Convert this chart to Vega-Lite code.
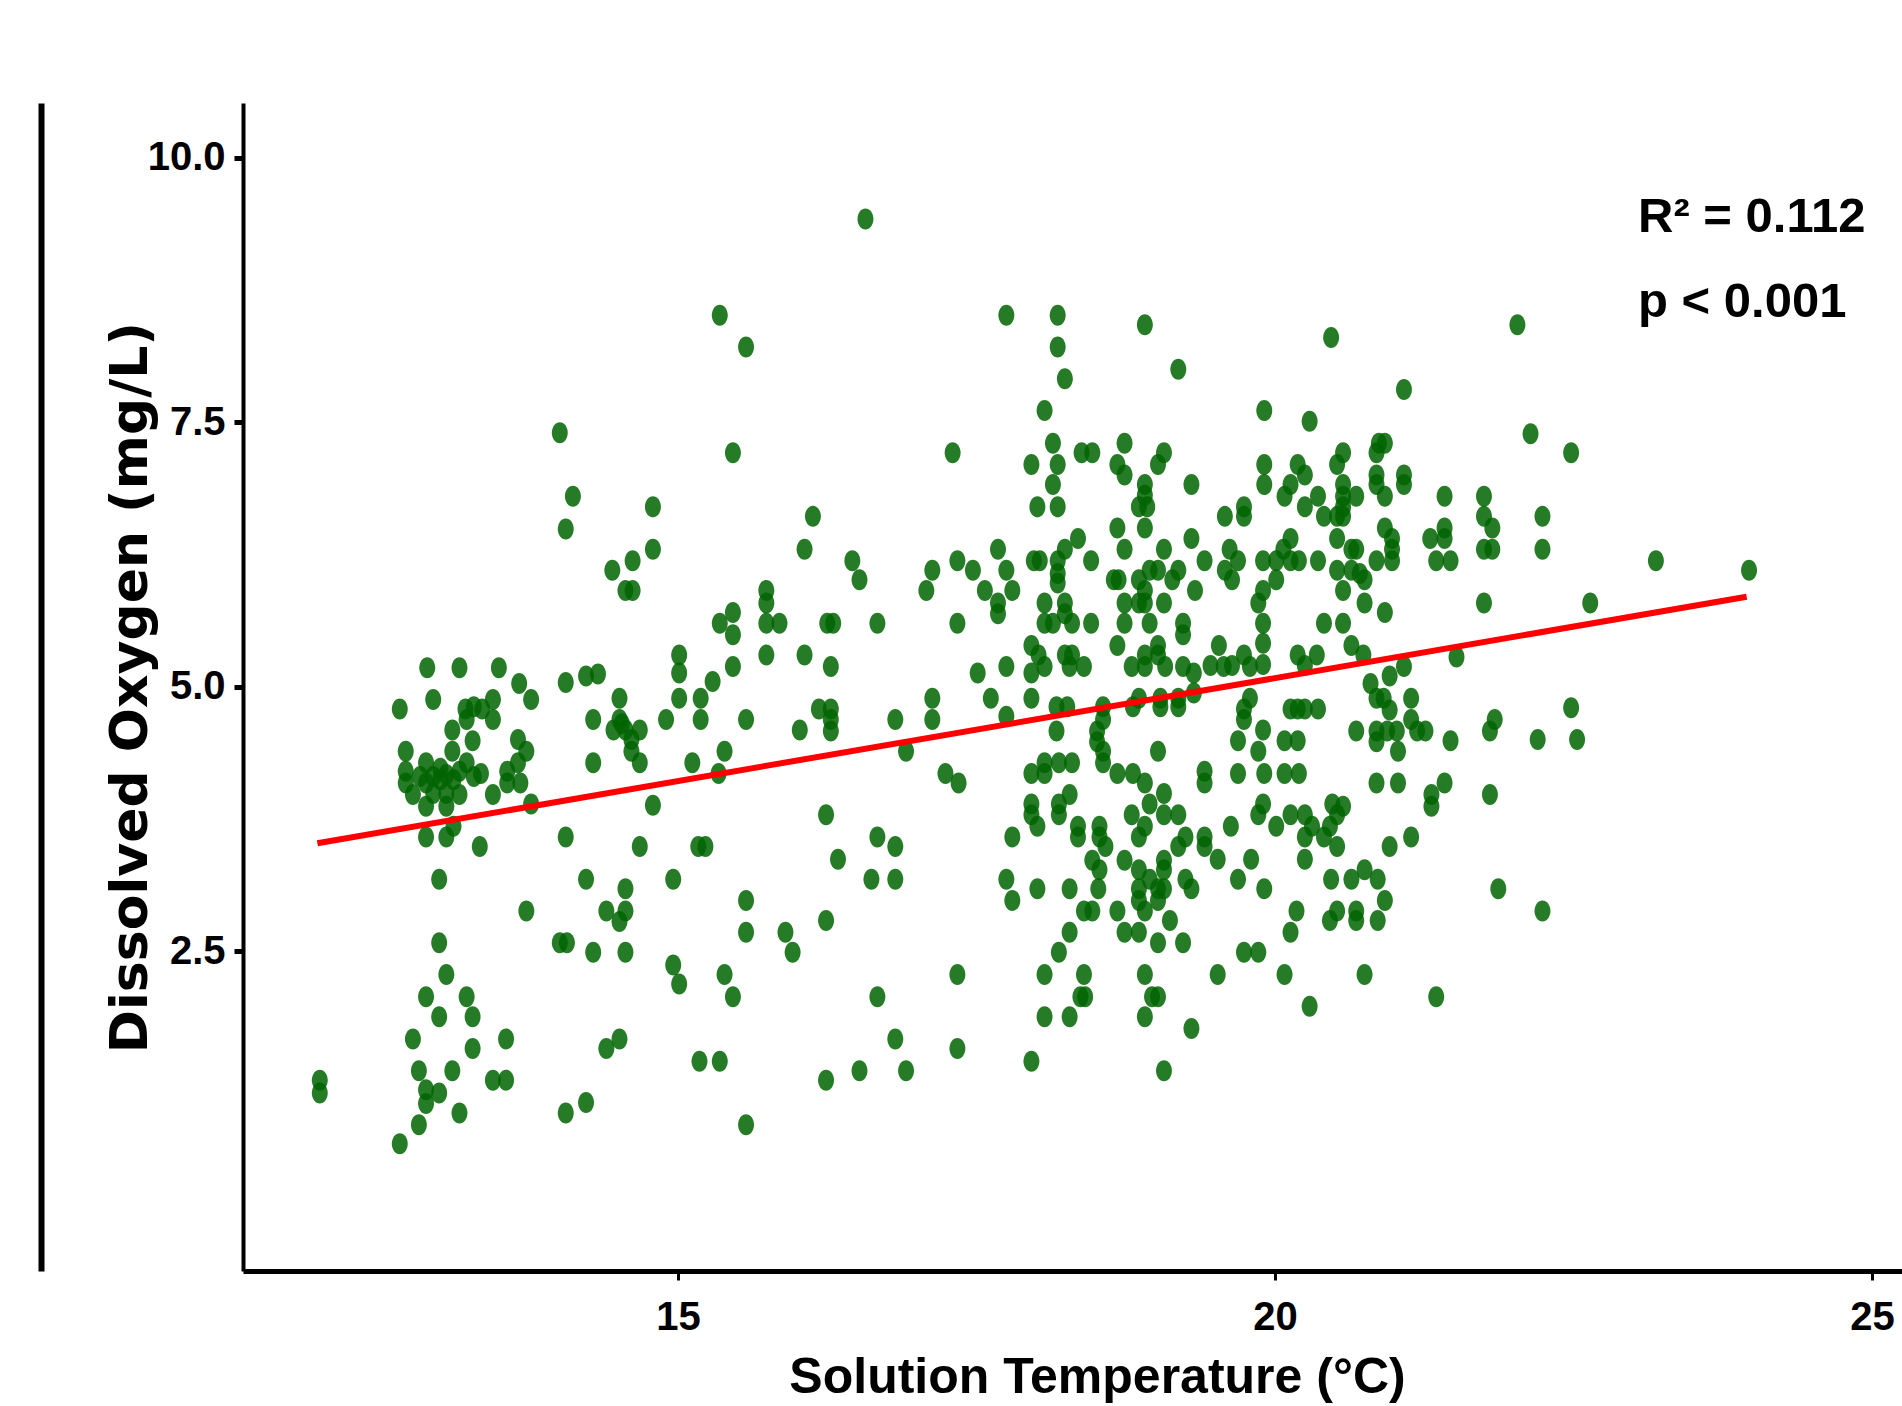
{
  "$schema": "https://vega.github.io/schema/vega-lite/v6.json",
  "width": 1659,
  "height": 1168,
  "autosize": {"type": "none"},
  "padding": {"left": 243, "top": 103, "right": 0, "bottom": 135},
  "background": "white",
  "config": {
    "view": {"stroke": null},
    "axis": {"grid": false, "domainColor": "black", "tickColor": "black", "labelColor": "black", "titleColor": "black", "labelFont": "Liberation Sans", "labelFontWeight": "bold"}
  },
  "datasets": {
    "pts": [
      {"temp":14.01,"do":7.40},{"temp":14.12,"do":6.80},{"temp":14.06,"do":6.49},
      {"temp":12.90,"do":5.18},{"temp":13.17,"do":5.18},{"temp":13.50,"do":5.18},{"temp":13.67,"do":5.03},{"temp":14.06,"do":5.04},{"temp":14.23,"do":5.10},{"temp":14.33,"do":5.12},
      {"temp":12.67,"do":4.79},{"temp":12.95,"do":4.88},{"temp":13.22,"do":4.79},{"temp":13.29,"do":4.81},{"temp":13.36,"do":4.79},{"temp":13.45,"do":4.88},{"temp":13.45,"do":4.69},{"temp":13.77,"do":4.88},{"temp":14.29,"do":4.69},{"temp":14.29,"do":4.28},{"temp":13.23,"do":4.69},{"temp":13.11,"do":4.59},{"temp":13.28,"do":4.49},{"temp":12.72,"do":4.39},{"temp":13.11,"do":4.39},{"temp":13.66,"do":4.50},{"temp":13.73,"do":4.39},{"temp":13.66,"do":4.28},
      {"temp":12.72,"do":4.20},{"temp":12.72,"do":4.09},{"temp":12.78,"do":3.98},{"temp":12.89,"do":4.28},{"temp":12.89,"do":4.09},{"temp":12.95,"do":4.15},{"temp":13.01,"do":4.12},{"temp":13.06,"do":4.17},{"temp":13.12,"do":4.12},{"temp":13.17,"do":4.20},{"temp":13.23,"do":4.28},{"temp":13.29,"do":4.15},{"temp":13.35,"do":4.18},{"temp":12.95,"do":3.99},{"temp":13.06,"do":3.99},{"temp":13.17,"do":3.98},{"temp":12.89,"do":3.87},{"temp":13.06,"do":3.87},{"temp":12.84,"do":4.15},{"temp":13.01,"do":4.23},
      {"temp":13.45,"do":3.98},{"temp":13.57,"do":4.20},{"temp":13.57,"do":4.09},{"temp":13.68,"do":4.09},{"temp":13.77,"do":3.89},
      {"temp":12.89,"do":3.58},{"temp":13.06,"do":3.58},{"temp":13.12,"do":3.68},{"temp":13.34,"do":3.49},{"temp":14.06,"do":3.58},{"temp":13.00,"do":3.18},{"temp":14.23,"do":3.18},{"temp":13.73,"do":2.88},{"temp":13.00,"do":2.58},{"temp":14.01,"do":2.58},{"temp":14.07,"do":2.58},{"temp":14.29,"do":2.49},{"temp":13.06,"do":2.28},{"temp":12.89,"do":2.07},{"temp":13.23,"do":2.07},{"temp":13.00,"do":1.88},{"temp":13.28,"do":1.88},{"temp":12.78,"do":1.67},{"temp":13.56,"do":1.67},{"temp":13.28,"do":1.58},{"temp":12.83,"do":1.37},{"temp":13.11,"do":1.37},{"temp":13.45,"do":1.28},{"temp":13.56,"do":1.28},{"temp":12.00,"do":1.28},{"temp":12.00,"do":1.16},{"temp":12.89,"do":1.19},{"temp":13.00,"do":1.16},{"temp":12.89,"do":1.06},{"temp":13.17,"do":0.97},{"temp":14.06,"do":0.97},{"temp":14.23,"do":1.07},{"temp":12.83,"do":0.86},{"temp":12.67,"do":0.68},
      {"temp":16.57,"do":9.42},{"temp":15.35,"do":8.51},{"temp":15.57,"do":8.21},{"temp":15.46,"do":7.21},{"temp":14.79,"do":6.70},{"temp":16.13,"do":6.61},{"temp":14.79,"do":6.30},{"temp":16.06,"do":6.30},{"temp":14.62,"do":6.19},{"temp":14.45,"do":6.10},{"temp":14.56,"do":5.91},{"temp":14.62,"do":5.91},{"temp":16.46,"do":6.19},{"temp":16.52,"do":6.01},{"temp":15.74,"do":5.91},{"temp":15.74,"do":5.79},{"temp":15.46,"do":5.70},{"temp":15.35,"do":5.60},{"temp":15.46,"do":5.49},{"temp":15.74,"do":5.60},{"temp":15.85,"do":5.60},{"temp":16.25,"do":5.60},{"temp":16.30,"do":5.60},{"temp":16.67,"do":5.60},{"temp":15.01,"do":5.30},{"temp":15.01,"do":5.13},{"temp":15.46,"do":5.19},{"temp":15.74,"do":5.30},{"temp":16.06,"do":5.30},{"temp":16.28,"do":5.19},{"temp":15.29,"do":5.05},
      {"temp":15.01,"do":4.89},{"temp":15.19,"do":4.89},{"temp":14.51,"do":4.89},{"temp":14.51,"do":4.69},{"temp":14.46,"do":4.59},{"temp":14.56,"do":4.59},{"temp":14.68,"do":4.59},{"temp":14.53,"do":4.65},{"temp":14.61,"do":4.50},{"temp":14.61,"do":4.39},{"temp":14.68,"do":4.28},{"temp":14.90,"do":4.69},{"temp":15.19,"do":4.69},{"temp":15.57,"do":4.69},{"temp":16.02,"do":4.59},{"temp":16.18,"do":4.79},{"temp":16.28,"do":4.79},{"temp":16.28,"do":4.69},{"temp":16.28,"do":4.58},{"temp":16.82,"do":4.69},{"temp":15.12,"do":4.28},{"temp":15.39,"do":4.39},{"temp":15.34,"do":4.18},{"temp":14.79,"do":3.88},{"temp":14.68,"do":3.49},{"temp":15.17,"do":3.49},{"temp":15.23,"do":3.49},{"temp":14.96,"do":3.18},{"temp":14.56,"do":3.09},{"temp":14.40,"do":2.88},{"temp":14.56,"do":2.88},{"temp":14.51,"do":2.78},{"temp":14.56,"do":2.49},{"temp":14.96,"do":2.37},{"temp":15.01,"do":2.19},{"temp":15.39,"do":2.28},{"temp":15.46,"do":2.07},{"temp":15.57,"do":2.98},{"temp":15.57,"do":2.68},{"temp":15.90,"do":2.68},{"temp":15.96,"do":2.49},{"temp":16.24,"do":3.79},{"temp":16.24,"do":2.79},{"temp":16.34,"do":3.37},{"temp":16.67,"do":3.58},{"temp":16.82,"do":3.49},{"temp":16.62,"do":3.18},{"temp":16.82,"do":3.18},{"temp":16.67,"do":2.07},{"temp":14.51,"do":1.67},{"temp":14.40,"do":1.58},{"temp":15.18,"do":1.46},{"temp":15.35,"do":1.46},{"temp":16.24,"do":1.28},{"temp":16.52,"do":1.37},{"temp":16.82,"do":1.67},{"temp":15.57,"do":0.86},
      {"temp":17.75,"do":8.51},{"temp":18.18,"do":8.51},{"temp":18.91,"do":8.42},{"temp":18.18,"do":8.21},{"temp":19.19,"do":8.00},{"temp":18.24,"do":7.91},{"temp":18.07,"do":7.61},{"temp":18.14,"do":7.30},{"temp":17.30,"do":7.21},{"temp":18.38,"do":7.21},{"temp":18.47,"do":7.21},{"temp":18.74,"do":7.30},{"temp":19.07,"do":7.21},{"temp":19.02,"do":7.10},{"temp":17.96,"do":7.10},{"temp":18.18,"do":7.10},{"temp":18.68,"do":7.10},{"temp":18.74,"do":7.00},{"temp":18.14,"do":6.91},{"temp":18.91,"do":6.91},{"temp":18.91,"do":6.81},{"temp":18.86,"do":6.70},{"temp":18.93,"do":6.70},{"temp":19.30,"do":6.91},{"temp":18.01,"do":6.70},{"temp":18.18,"do":6.70},{"temp":18.68,"do":6.50},{"temp":18.91,"do":6.50},{"temp":18.74,"do":6.30},{"temp":19.07,"do":6.30},{"temp":19.30,"do":6.40},{"temp":17.68,"do":6.30},{"temp":18.35,"do":6.40},{"temp":18.24,"do":6.30},{"temp":17.34,"do":6.19},{"temp":17.13,"do":6.10},{"temp":17.47,"do":6.10},{"temp":17.08,"do":5.91},{"temp":17.57,"do":5.91},{"temp":17.75,"do":6.10},{"temp":17.80,"do":5.91},{"temp":17.68,"do":5.79},{"temp":17.68,"do":5.69},{"temp":17.98,"do":6.19},{"temp":18.03,"do":6.19},{"temp":18.18,"do":6.19},{"temp":18.18,"do":6.07},{"temp":18.18,"do":5.98},{"temp":18.46,"do":6.19},{"temp":18.65,"do":6.01},{"temp":18.69,"do":6.01},{"temp":18.86,"do":6.01},{"temp":18.95,"do":6.10},{"temp":19.02,"do":6.10},{"temp":19.19,"do":6.10},{"temp":19.14,"do":6.01},{"temp":18.91,"do":5.91},{"temp":18.91,"do":5.79},{"temp":18.86,"do":5.79},{"temp":18.74,"do":5.79},{"temp":19.07,"do":5.79},{"temp":19.33,"do":5.91},{"temp":18.07,"do":5.79},{"temp":18.24,"do":5.79},{"temp":18.24,"do":5.69},{"temp":18.07,"do":5.60},{"temp":18.14,"do":5.60},{"temp":18.30,"do":5.60},{"temp":18.46,"do":5.60},{"temp":18.74,"do":5.60},{"temp":18.95,"do":5.60},{"temp":19.23,"do":5.60},{"temp":19.23,"do":5.49},{"temp":17.34,"do":5.60},{"temp":18.68,"do":5.39},{"temp":17.96,"do":5.39},{"temp":18.02,"do":5.30},{"temp":18.07,"do":5.19},{"temp":18.24,"do":5.30},{"temp":18.30,"do":5.30},{"temp":18.28,"do":5.19},{"temp":18.40,"do":5.19},{"temp":18.91,"do":5.30},{"temp":19.02,"do":5.39},{"temp":19.02,"do":5.30},{"temp":19.08,"do":5.19},{"temp":18.91,"do":5.19},{"temp":18.80,"do":5.19},{"temp":19.23,"do":5.19},{"temp":19.32,"do":5.13},{"temp":17.75,"do":5.19},{"temp":17.51,"do":5.13},{"temp":17.96,"do":5.13},
      {"temp":17.13,"do":4.89},{"temp":17.13,"do":4.69},{"temp":17.62,"do":4.89},{"temp":17.96,"do":4.89},{"temp":17.75,"do":4.72},{"temp":18.17,"do":4.81},{"temp":18.26,"do":4.81},{"temp":18.17,"do":4.58},{"temp":18.56,"do":4.81},{"temp":18.56,"do":4.69},{"temp":18.51,"do":4.58},{"temp":18.51,"do":4.48},{"temp":18.56,"do":4.39},{"temp":18.56,"do":4.28},{"temp":18.68,"do":4.18},{"temp":18.81,"do":4.18},{"temp":18.91,"do":4.09},{"temp":18.81,"do":4.81},{"temp":18.86,"do":4.89},{"temp":19.04,"do":4.81},{"temp":19.04,"do":4.89},{"temp":19.19,"do":4.81},{"temp":19.19,"do":4.89},{"temp":19.32,"do":4.94},{"temp":19.02,"do":4.39},{"temp":16.91,"do":4.39},{"temp":17.24,"do":4.18},{"temp":17.35,"do":4.09},{"temp":17.96,"do":4.18},{"temp":18.07,"do":4.28},{"temp":18.07,"do":4.18},{"temp":18.19,"do":4.28},{"temp":18.30,"do":4.28},{"temp":17.96,"do":3.89},{"temp":17.96,"do":3.79},{"temp":18.01,"do":3.68},{"temp":18.19,"do":3.89},{"temp":18.19,"do":3.79},{"temp":18.28,"do":3.98},{"temp":17.80,"do":3.58},{"temp":18.35,"do":3.68},{"temp":18.35,"do":3.58},{"temp":18.53,"do":3.68},{"temp":18.53,"do":3.58},{"temp":18.58,"do":3.49},{"temp":18.80,"do":3.79},{"temp":18.91,"do":3.68},{"temp":18.86,"do":3.58},{"temp":19.07,"do":3.99},{"temp":18.95,"do":3.89},{"temp":19.07,"do":3.79},{"temp":19.19,"do":3.79},{"temp":19.25,"do":3.58},{"temp":19.19,"do":3.49},{"temp":18.47,"do":3.36},{"temp":18.53,"do":3.27},{"temp":18.74,"do":3.36},{"temp":18.86,"do":3.27},{"temp":19.07,"do":3.36},{"temp":19.07,"do":3.27},{"temp":18.95,"do":3.18},{"temp":19.02,"do":3.09},{"temp":19.07,"do":3.09},{"temp":18.86,"do":3.09},{"temp":18.86,"do":2.98},{"temp":18.91,"do":2.88},{"temp":19.02,"do":2.98},{"temp":19.25,"do":3.18},{"temp":19.30,"do":3.09},{"temp":17.75,"do":3.18},{"temp":17.80,"do":2.98},{"temp":18.01,"do":3.09},{"temp":18.28,"do":3.09},{"temp":18.52,"do":3.09},{"temp":18.40,"do":2.88},{"temp":18.47,"do":2.88},{"temp":18.68,"do":2.88},{"temp":18.74,"do":2.68},{"temp":18.86,"do":2.68},{"temp":19.12,"do":2.79},{"temp":19.02,"do":2.58},{"temp":19.23,"do":2.58},{"temp":18.28,"do":2.68},{"temp":18.19,"do":2.49},{"temp":17.34,"do":2.28},{"temp":18.07,"do":2.28},{"temp":18.40,"do":2.28},{"temp":18.37,"do":2.07},{"temp":18.41,"do":2.07},{"temp":18.07,"do":1.88},{"temp":18.28,"do":1.88},{"temp":18.91,"do":2.28},{"temp":18.97,"do":2.07},{"temp":19.02,"do":2.07},{"temp":18.91,"do":1.88},{"temp":19.30,"do":1.77},{"temp":17.34,"do":1.58},{"temp":17.96,"do":1.46},{"temp":19.07,"do":1.37},{"temp":16.91,"do":1.37},
      {"temp":20.47,"do":8.30},{"temp":21.08,"do":7.81},{"temp":19.91,"do":7.61},{"temp":20.29,"do":7.51},{"temp":20.87,"do":7.30},{"temp":20.92,"do":7.30},{"temp":20.57,"do":7.21},{"temp":20.52,"do":7.10},{"temp":20.19,"do":7.10},{"temp":20.25,"do":7.00},{"temp":19.91,"do":7.10},{"temp":19.91,"do":6.91},{"temp":20.85,"do":7.21},{"temp":20.85,"do":7.00},{"temp":20.85,"do":6.91},{"temp":20.92,"do":6.80},{"temp":21.08,"do":7.00},{"temp":21.08,"do":6.91},{"temp":20.13,"do":6.91},{"temp":20.08,"do":6.80},{"temp":20.57,"do":6.91},{"temp":20.57,"do":6.80},{"temp":20.36,"do":6.80},{"temp":20.68,"do":6.80},{"temp":19.74,"do":6.70},{"temp":19.74,"do":6.61},{"temp":19.58,"do":6.61},{"temp":20.25,"do":6.70},{"temp":20.41,"do":6.61},{"temp":20.52,"do":6.61},{"temp":20.57,"do":6.61},{"temp":20.57,"do":6.70},{"temp":21.42,"do":6.80},{"temp":21.75,"do":6.80},{"temp":21.75,"do":6.61},{"temp":21.82,"do":6.50},{"temp":21.75,"do":6.30},{"temp":21.82,"do":6.30},{"temp":20.92,"do":6.50},{"temp":20.98,"do":6.40},{"temp":20.98,"do":6.30},{"temp":21.30,"do":6.40},{"temp":21.42,"do":6.50},{"temp":21.42,"do":6.40},{"temp":20.52,"do":6.40},{"temp":20.64,"do":6.30},{"temp":20.68,"do":6.30},{"temp":19.62,"do":6.30},{"temp":19.69,"do":6.19},{"temp":20.13,"do":6.40},{"temp":20.07,"do":6.30},{"temp":19.41,"do":6.19},{"temp":19.90,"do":6.19},{"temp":20.01,"do":6.19},{"temp":20.13,"do":6.19},{"temp":20.20,"do":6.19},{"temp":20.36,"do":6.19},{"temp":20.85,"do":6.19},{"temp":20.98,"do":6.19},{"temp":21.35,"do":6.19},{"temp":21.47,"do":6.19},{"temp":19.58,"do":6.10},{"temp":19.64,"do":6.01},{"temp":20.01,"do":6.01},{"temp":20.52,"do":6.10},{"temp":20.64,"do":6.10},{"temp":20.71,"do":6.07},{"temp":20.75,"do":6.01},{"temp":20.57,"do":5.91},{"temp":19.90,"do":5.91},{"temp":19.86,"do":5.79},{"temp":19.90,"do":5.60},{"temp":19.90,"do":5.41},{"temp":19.90,"do":5.21},{"temp":20.41,"do":5.60},{"temp":20.57,"do":5.60},{"temp":20.75,"do":5.79},{"temp":20.92,"do":5.70},{"temp":21.75,"do":5.79},{"temp":19.53,"do":5.39},{"temp":19.74,"do":5.30},{"temp":19.46,"do":5.20},{"temp":19.57,"do":5.19},{"temp":19.64,"do":5.20},{"temp":19.79,"do":5.19},{"temp":20.19,"do":5.30},{"temp":20.35,"do":5.30},{"temp":20.25,"do":5.20},{"temp":20.64,"do":5.39},{"temp":20.74,"do":5.30},{"temp":21.08,"do":5.19},{"temp":20.96,"do":5.10},{"temp":21.52,"do":5.28},{"temp":20.80,"do":5.03},
      {"temp":20.85,"do":4.89},{"temp":20.91,"do":4.89},{"temp":20.96,"do":4.78},{"temp":21.14,"do":4.89},{"temp":19.79,"do":4.89},{"temp":19.74,"do":4.79},{"temp":19.74,"do":4.69},{"temp":20.13,"do":4.79},{"temp":20.19,"do":4.79},{"temp":20.25,"do":4.79},{"temp":20.36,"do":4.79},{"temp":19.90,"do":4.59},{"temp":19.86,"do":4.39},{"temp":19.69,"do":4.49},{"temp":20.08,"do":4.49},{"temp":20.19,"do":4.49},{"temp":20.68,"do":4.58},{"temp":20.85,"do":4.58},{"temp":20.85,"do":4.48},{"temp":20.94,"do":4.58},{"temp":21.02,"do":4.58},{"temp":21.14,"do":4.69},{"temp":21.19,"do":4.58},{"temp":21.26,"do":4.58},{"temp":21.03,"do":4.39},{"temp":21.47,"do":4.49},{"temp":21.80,"do":4.58},{"temp":21.84,"do":4.69},{"temp":19.41,"do":4.20},{"temp":19.41,"do":4.09},{"temp":19.69,"do":4.18},{"temp":19.91,"do":4.18},{"temp":20.08,"do":4.18},{"temp":20.20,"do":4.18},{"temp":20.85,"do":4.09},{"temp":21.03,"do":4.09},{"temp":21.31,"do":3.98},{"temp":21.31,"do":3.87},{"temp":21.42,"do":4.09},{"temp":21.80,"do":3.98},{"temp":19.90,"do":3.89},{"temp":19.86,"do":3.79},{"temp":19.63,"do":3.68},{"temp":20.01,"do":3.68},{"temp":20.13,"do":3.79},{"temp":20.25,"do":3.79},{"temp":20.31,"do":3.68},{"temp":20.25,"do":3.58},{"temp":20.48,"do":3.89},{"temp":20.57,"do":3.87},{"temp":20.52,"do":3.79},{"temp":20.46,"do":3.68},{"temp":20.41,"do":3.58},{"temp":20.52,"do":3.49},{"temp":19.41,"do":3.58},{"temp":19.41,"do":3.49},{"temp":19.52,"do":3.37},{"temp":19.80,"do":3.37},{"temp":20.25,"do":3.37},{"temp":20.96,"do":3.49},{"temp":21.14,"do":3.58},{"temp":19.69,"do":3.18},{"temp":19.91,"do":3.09},{"temp":20.47,"do":3.18},{"temp":20.64,"do":3.18},{"temp":20.75,"do":3.27},{"temp":20.86,"do":3.18},{"temp":20.92,"do":2.98},{"temp":20.18,"do":2.88},{"temp":20.13,"do":2.68},{"temp":20.52,"do":2.88},{"temp":20.46,"do":2.79},{"temp":20.68,"do":2.88},{"temp":20.68,"do":2.79},{"temp":20.86,"do":2.79},{"temp":19.74,"do":2.49},{"temp":19.86,"do":2.49},{"temp":19.52,"do":2.28},{"temp":20.08,"do":2.28},{"temp":20.75,"do":2.28},{"temp":20.29,"do":1.98},{"temp":21.35,"do":2.07},{"temp":21.87,"do":3.09},
      {"temp":22.03,"do":8.42},{"temp":22.14,"do":7.39},{"temp":22.48,"do":7.21},{"temp":22.24,"do":6.61},{"temp":22.24,"do":6.30},{"temp":23.19,"do":6.19},{"temp":23.97,"do":6.10},{"temp":22.64,"do":5.79},{"temp":22.48,"do":4.80},{"temp":22.20,"do":4.50},{"temp":22.53,"do":4.50},{"temp":22.24,"do":2.88}
    ],
    "fit": [
      {"temp": 11.98, "do": 3.52},
      {"temp": 23.95, "do": 5.85}
    ],
    "notes": [
      {"temp": 23.04, "do": 9.30, "label": "R² = 0.112"},
      {"temp": 23.04, "do": 8.49, "label": "p < 0.001"}
    ]
  },
  "encoding": {
    "x": {
      "field": "temp", "type": "quantitative",
      "scale": {"domain": [11.357, 25.251], "nice": false, "zero": false},
      "axis": {
        "title": "Solution Temperature (°C)",
        "values": [15, 20, 25],
        "format": "d",
        "labelFontSize": 40,
        "labelPadding": 17,
        "labelFlush": false,
        "tickSize": 9, "tickWidth": 3,
        "domainWidth": 5,
        "titleFont": "Liberation Sans",
        "titleFontWeight": "bold",
        "titleFontSize": 50,
        "titleX": 854, "titleY": 121,
        "titleAlign": "center", "titleBaseline": "alphabetic"
      }
    },
    "y": {
      "field": "do", "type": "quantitative",
      "scale": {"domain": [-0.523, 10.517], "nice": false, "zero": false},
      "axis": {
        "title": "Dissolved Oxygen (mg/L)",
        "values": [2.5, 5, 7.5, 10],
        "format": ".1f",
        "labelFontSize": 40,
        "labelPadding": 9,
        "tickSize": 9, "tickWidth": 5,
        "domainWidth": 4,
        "titleFont": "DejaVu Sans",
        "titleFontWeight": "bold",
        "titleFontSize": 52,
        "titleAngle": 270,
        "titleX": -97, "titleY": 584,
        "titleAlign": "center", "titleBaseline": "alphabetic"
      }
    }
  },
  "layer": [
    {
      "data": {"name": "pts"},
      "mark": {"type": "point", "shape": "M-0.76,0A0.76,1,0,1,1,0.76,0A0.76,1,0,1,1,-0.76,0Z", "filled": true, "color": "#006400", "opacity": 0.85, "size": 441, "strokeWidth": 0}
    },
    {
      "data": {"name": "fit"},
      "mark": {"type": "line", "color": "#ff0000", "strokeWidth": 6, "strokeCap": "butt"},
      "encoding": {
        "y": {
          "field": "do", "type": "quantitative",
          "scale": {"domain": [-0.523, 10.517], "nice": false, "zero": false},
          "axis": {"orient": "left", "offset": 202, "domainWidth": 6, "domainColor": "black", "ticks": false, "labels": false, "title": null, "grid": false}
        }
      }
    },
    {
      "data": {"name": "notes"},
      "mark": {"type": "text", "align": "left", "baseline": "alphabetic", "font": "Liberation Sans", "fontWeight": "bold", "fontSize": 49, "color": "black"},
      "encoding": {
        "y": {"field": "do", "type": "quantitative", "scale": {"domain": [-0.523, 10.517], "nice": false, "zero": false}, "axis": null},
        "text": {"field": "label"}
      }
    }
  ],
  "resolve": {"axis": {"y": "independent"}}
}
